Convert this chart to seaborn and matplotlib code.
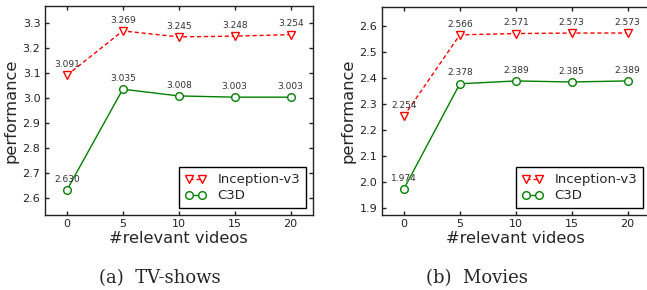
import numpy as np
import pandas as pd
import seaborn as sns
import matplotlib.pyplot as plt

# data
num_videos = [0, 5, 10, 15, 20]
tv_inception = [3.091, 3.269, 3.245, 3.248, 3.254]
tv_c3d = [2.630, 3.035, 3.008, 3.003, 3.003]
movie_inception = [2.254, 2.566, 2.571, 2.573, 2.573]
movie_c3d = [1.974, 2.378, 2.389, 2.385, 2.389]
tv_yticks = [2.6, 2.7, 2.8, 2.9, 3.0, 3.1, 3.2, 3.3]
movie_yticks = [1.9, 2.0, 2.1, 2.2, 2.3, 2.4, 2.5, 2.6]
captions = ["(a)  TV-shows", "(b)  Movies"]

sns.set_style("ticks", {"xtick.direction": "in", "ytick.direction": "in",
                        "axes.edgecolor": "black"})
plt.rcParams["font.family"] = ["DejaVu Sans"]


def draw_panel(ax, inception, c3d, yticks):
    sns.lineplot(x=num_videos, y=inception, ax=ax, color="red", dashes=(3, 2),
                 marker="v", markersize=5.5, markerfacecolor="white",
                 markeredgecolor="red", markeredgewidth=1.0, linewidth=1.0,
                 label="Inception-v3")
    sns.lineplot(x=num_videos, y=c3d, ax=ax, color="green", linestyle="-",
                 marker="o", markersize=5.5, markerfacecolor="white",
                 markeredgecolor="green", markeredgewidth=1.0, linewidth=1.0,
                 label="C3D")
    for series in (inception, c3d):
        for x, y in zip(num_videos, series):
            ax.annotate("%.3f" % y, (x, y), xytext=(0, 6), textcoords="offset points",
                        ha="center", va="baseline", fontsize=6.5, color="#333333")
    lo = min(c3d) - 0.1
    hi = max(inception) + 0.1
    ax.set_ylim(lo, hi)
    ax.set_xlim(-2, 22)
    ax.set_xticks(num_videos)
    ax.set_yticks(yticks)
    ax.yaxis.set_major_formatter(plt.FormatStrFormatter("%.1f"))
    ax.tick_params(direction="in", top=True, right=True, labelsize=8, length=2.8,
                   width=1.0, pad=3, colors="#222222")
    for s in ax.spines.values():
        s.set_linewidth(1.0)
        s.set_color("#222222")
    ax.set_xlabel("#relevant videos", fontsize=11.7, labelpad=1)
    ax.set_ylabel("performance", fontsize=11.7, labelpad=3)
    leg = ax.legend(loc="lower right", numpoints=2, fontsize=9.5, fancybox=False,
                    framealpha=1, edgecolor="black", borderaxespad=0.5,
                    handlelength=1.6, handletextpad=0.9, borderpad=0.45,
                    labelspacing=0.25)
    leg.get_frame().set_linewidth(1.0)


fig = plt.figure(figsize=(6.47, 2.90), dpi=100)
ax1 = fig.add_axes([44.5 / 647, 1 - 215 / 290, 268.5 / 647, 209 / 290])
# the right panel runs past the image edge, as in the reference
ax2 = fig.add_axes([381.5 / 647, 1 - 215 / 290, 268.5 / 647, 208 / 290])
draw_panel(ax1, tv_inception, tv_c3d, tv_yticks)
draw_panel(ax2, movie_inception, movie_c3d, movie_yticks)
ax2.tick_params(right=False)

fig.text(160 / 647, 1 - 278 / 290, captions[0], ha="center", va="center",
         fontsize=13, family=["DejaVu Serif"])
fig.text(477 / 647, 1 - 278 / 290, captions[1], ha="center", va="center",
         fontsize=13, family=["DejaVu Serif"])

fig.savefig("out.png", dpi=100)
